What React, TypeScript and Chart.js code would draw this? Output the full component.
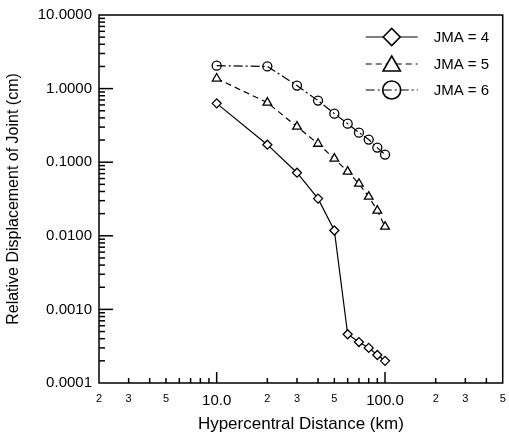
import React, { useEffect, useRef } from 'react';
import { Chart, registerables } from 'chart.js';

Chart.register(...registerables);

const distances = [10, 20, 30, 40, 50, 60, 70, 80, 90, 100];
const jma4 = [0.63, 0.173, 0.072, 0.032, 0.0118, 0.00046, 0.00036, 0.0003, 0.00024, 0.0002];
const jma5 = [1.37, 0.645, 0.304, 0.178, 0.112, 0.0745, 0.051, 0.034, 0.022, 0.0133];
const jma6 = [2.05, 2.0, 1.1, 0.687, 0.457, 0.334, 0.252, 0.203, 0.158, 0.127];
const seriesLabels = ['JMA = 4', 'JMA = 5', 'JMA = 6'];

const xTickValues = [2, 3, 5, 10, 20, 30, 50, 100, 200, 300, 500];
const xTickLabels = ['2', '3', '5', '10.0', '2', '3', '5', '100.0', '2', '3', '5'];
const xMajorTicks = [10, 100];
const xMinorTicks = [3, 4, 5, 6, 7, 8, 9, 20, 30, 40, 50, 60, 70, 80, 90, 200, 300, 400];

const yTickValues = [0.0001, 0.001, 0.01, 0.1, 1, 10];
const yTickLabels = ['0.0001', '0.0010', '0.0100', '0.1000', '1.0000', '10.0000'];
const yMajorTicks = [0.001, 0.01, 0.1, 1];
const yMinorMultipliers = [2, 3, 4, 5, 6, 7, 8, 9];
const yMinorDecades = [0.0001, 0.001, 0.01, 0.1, 1];

const FONT = '"Liberation Sans", Arial, Helvetica, sans-serif';

const styles = [
  { pointStyle: 'rectRot', radius: 4.5, legendRadius: 8.5, dash: [] as number[], fill: '#ffffff' },
  { pointStyle: 'triangle', radius: 5, legendRadius: 10, dash: [6, 4], fill: '#ffffff' },
  { pointStyle: 'circle', radius: 4.5, legendRadius: 9, dash: [9, 3, 2, 3], fill: 'rgba(255,255,255,0)' },
];

function drawMarker(ctx: CanvasRenderingContext2D, style: string, x: number, y: number, r: number, fill: string) {
  ctx.beginPath();
  if (style === 'rectRot') {
    ctx.moveTo(x - r, y);
    ctx.lineTo(x, y - r);
    ctx.lineTo(x + r, y);
    ctx.lineTo(x, y + r);
    ctx.closePath();
  } else if (style === 'triangle') {
    const a = Math.PI * 2 / 3;
    ctx.moveTo(x, y - r);
    ctx.lineTo(x + Math.sin(a) * r, y - Math.cos(a) * r);
    ctx.lineTo(x + Math.sin(2 * a) * r, y - Math.cos(2 * a) * r);
    ctx.closePath();
  } else {
    ctx.arc(x, y, r, 0, Math.PI * 2);
  }
  ctx.fillStyle = fill;
  ctx.fill();
  ctx.stroke();
}

const framePlugin = {
  id: 'framePlugin',
  afterDraw(chart: any) {
    const { ctx, chartArea } = chart;
    const { left, right, top, bottom } = chartArea;
    const xs = chart.scales.x;
    const ys = chart.scales.y;
    ctx.save();
    ctx.strokeStyle = '#000';
    ctx.lineWidth = 1.5;
    ctx.setLineDash([]);
    ctx.strokeRect(left, top, right - left, bottom - top);

    ctx.lineWidth = 1.5;
    ctx.strokeStyle = '#000';
    const segs: number[][] = [];
    yMinorDecades.forEach((d) => {
      yMinorMultipliers.forEach((m) => {
        const py = ys.getPixelForValue(d * m);
        segs.push([left, py, left + 6, py]);
      });
    });
    yMajorTicks.forEach((v) => {
      const py = ys.getPixelForValue(v);
      segs.push([left, py, left + 14, py]);
    });
    xMinorTicks.forEach((v) => {
      const px = xs.getPixelForValue(v);
      segs.push([px, bottom, px, bottom - 5]);
    });
    xMajorTicks.forEach((v) => {
      const px = xs.getPixelForValue(v);
      segs.push([px, bottom, px, bottom - 11]);
    });
    segs.forEach((s) => {
      ctx.beginPath();
      ctx.moveTo(s[0], s[1]);
      ctx.lineTo(s[2], s[3]);
      ctx.stroke();
    });

    // legend
    const lx0 = right - 137;
    const lx1 = right - 85;
    const mx = right - 111;
    const tx = right - 69;
    const rows = [top + 22, top + 49, top + 75];
    ctx.font = `15px ${FONT}`;
    ctx.textBaseline = 'middle';
    ctx.textAlign = 'left';
    styles.forEach((s, i) => {
      ctx.lineWidth = 1.2;
      ctx.setLineDash(s.dash);
      ctx.beginPath();
      ctx.moveTo(lx0, rows[i]);
      ctx.lineTo(lx1, rows[i]);
      ctx.stroke();
      ctx.setLineDash([]);
      ctx.lineWidth = 1.6;
      drawMarker(ctx, s.pointStyle, mx, rows[i] + (s.pointStyle === 'triangle' ? 2 : 0), s.legendRadius, s.fill);
      ctx.fillStyle = '#000';
      ctx.fillText(seriesLabels[i], tx, rows[i] + 1);
    });
    ctx.restore();
  },
};

export default function App() {
  const canvasRef = useRef<HTMLCanvasElement | null>(null);

  useEffect(() => {
    const canvas = canvasRef.current;
    if (!canvas) return;
    const seriesValues = [jma4, jma5, jma6];
    const chart = new Chart(canvas, {
      type: 'line',
      data: {
        datasets: seriesValues.map((vals, i) => ({
          label: seriesLabels[i],
          data: distances.map((d, j) => ({ x: d, y: vals[j] })),
          borderColor: '#000',
          borderWidth: 1.2,
          borderDash: styles[i].dash,
          pointStyle: styles[i].pointStyle as any,
          pointRadius: styles[i].radius,
          pointBackgroundColor: styles[i].fill,
          pointBorderColor: '#000',
          pointBorderWidth: 1.3,
          tension: 0,
          fill: false,
        })),
      },
      options: {
        animation: false,
        responsive: false,
        events: [],
        layout: { padding: { left: 0, right: 2, top: 15, bottom: 0 } },
        plugins: {
          legend: { display: false },
          tooltip: { enabled: false },
        },
        scales: {
          x: {
            type: 'logarithmic',
            min: 2,
            max: 500,
            grid: { display: false, drawTicks: false },
            border: { display: false },
            afterBuildTicks: (scale: any) => {
              scale.ticks = xTickValues.map((v) => ({ value: v }));
            },
            afterFit: (scale: any) => {
              scale.height = 51;
              scale.paddingLeft = 0;
              scale.paddingRight = 0;
            },
            ticks: {
              autoSkip: false,
              maxRotation: 0,
              minRotation: 0,
              padding: 9,
              color: '#000',
              font: (ctx: any) => {
                const v = ctx.tick ? ctx.tick.value : 0;
                return xMajorTicks.includes(v)
                  ? { family: FONT, size: 15 }
                  : { family: FONT, size: 11 };
              },
              callback: (_v: any, i: number) => xTickLabels[i],
            },
            title: {
              display: true,
              text: 'Hypercentral Distance (km)',
              color: '#000',
              font: { family: FONT, size: 17 },
              padding: { top: 0, bottom: -1 },
            },
          },
          y: {
            type: 'logarithmic',
            min: 0.0001,
            max: 10,
            grid: { display: false, drawTicks: false },
            border: { display: false },
            afterBuildTicks: (scale: any) => {
              scale.ticks = yTickValues.map((v) => ({ value: v }));
            },
            afterFit: (scale: any) => {
              scale.width = 99;
              scale.paddingTop = 0;
              scale.paddingBottom = 0;
            },
            ticks: {
              autoSkip: false,
              padding: 7,
              color: '#000',
              font: { family: FONT, size: 15 },
              callback: (_v: any, i: number) => yTickLabels[i],
            },
            title: {
              display: true,
              text: 'Relative Displacement of Joint (cm)',
              color: '#000',
              font: { family: FONT, size: 16 },
              padding: { top: 4, bottom: 0 },
            },
          },
        },
      },
      plugins: [framePlugin],
    });
    return () => chart.destroy();
  }, []);

  return (
    <div style={{ position: 'absolute', left: 0, top: 0, width: 509, height: 434, background: '#fff' }}>
      <canvas ref={canvasRef} width={509} height={434} style={{ display: 'block' }} />
    </div>
  );
}
